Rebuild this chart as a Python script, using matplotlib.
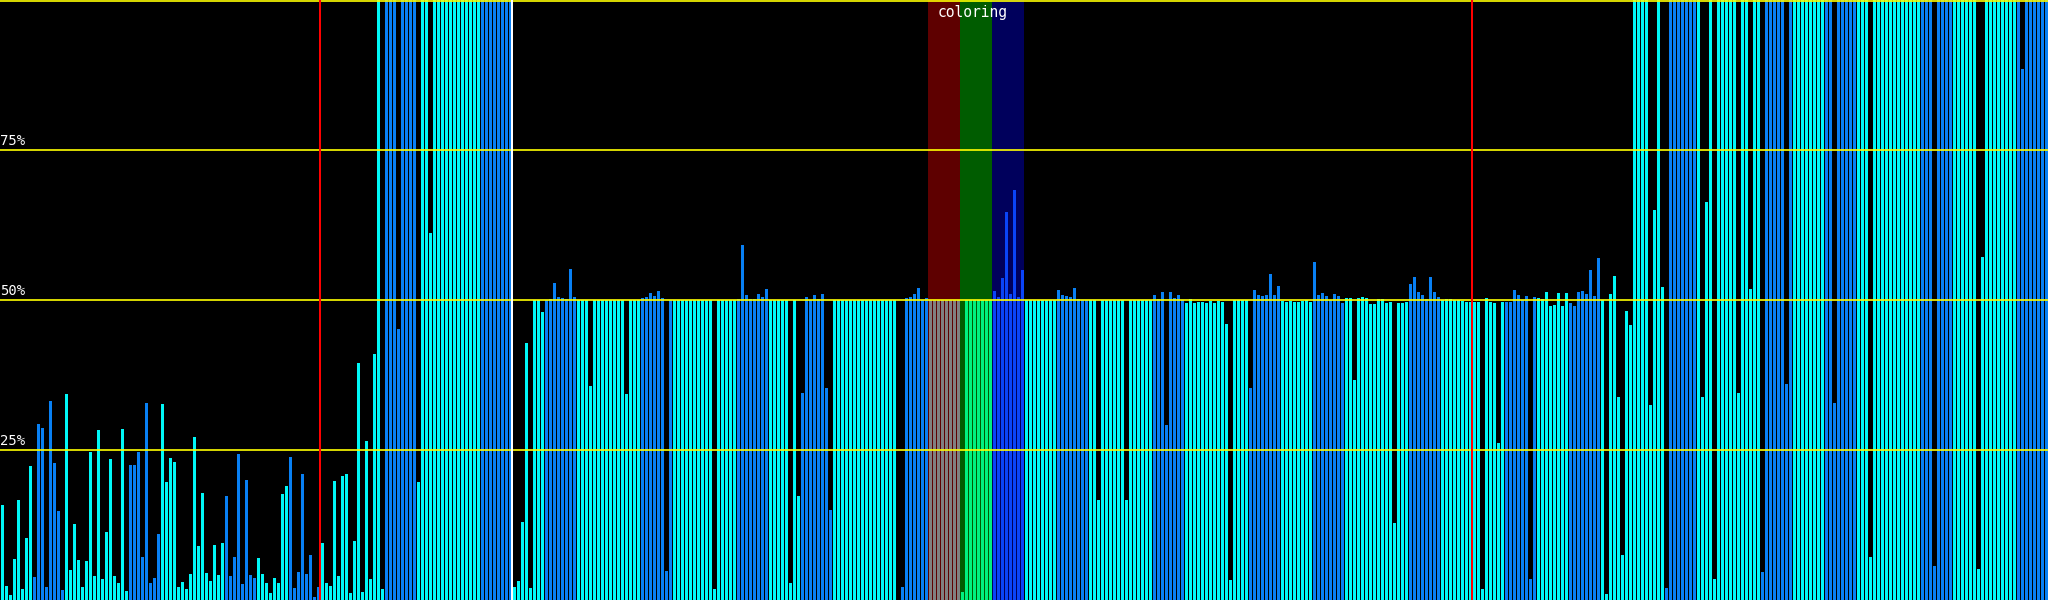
import matplotlib
matplotlib.use("Agg")
import matplotlib.pyplot as plt

# bar heights in percent, 8 bars per row (one colour group per row)
values_a = [
    15.8, 2.4, 0.8, 6.9, 16.6, 1.8, 10.3, 22.3,
    3.8, 29.3, 28.6, 2.2, 33.2, 22.8, 14.9, 1.7,
    34.3, 5.0, 12.7, 6.7, 2.2, 6.5, 24.7, 4.0,
    28.3, 3.5, 11.4, 23.5, 4.0, 2.8, 28.5, 1.5,
    22.5, 22.5, 24.7, 7.1, 32.8, 2.8, 3.6, 11.0,
    32.7, 19.6, 23.7, 23.0, 2.2, 3.0, 1.8, 4.3,
    27.2, 9.0, 17.9, 4.5, 3.2, 9.2, 4.1, 9.5,
    17.3, 4.0, 7.1, 24.4, 2.7, 20.0, 4.1, 3.6,
    7.0, 4.3, 2.8, 1.1, 3.6, 2.8, 17.7, 19.0,
    23.9, 2.0, 4.7, 21.0, 4.3, 7.5, 0.5, 2.2,
    9.5, 2.8, 2.4, 19.8, 4.0, 20.7, 21.0, 1.1,
    9.8, 39.5, 1.3, 26.5, 3.5, 41.0, 100, 1.8,
    100, 100, 100, 45.2, 100, 100, 100, 100,
    19.6, 100, 100, 61.2, 100, 100, 100, 100,
    100, 100, 100, 100, 100, 100, 100, 100,
    100, 100, 100, 100, 100, 100, 100, 100,
]
values_b = [
    2.2, 3.2, 13.0, 42.9, 2.0, 50, 50, 48.0,
    50, 50.2, 52.8, 50.5, 50.3, 50.2, 55.2, 50.5,
    50, 50, 50, 35.7, 50, 50, 50, 50,
    50, 50, 50, 50, 34.3, 50, 50, 50,
    50.3, 50.5, 51.1, 50.6, 51.5, 50.3, 4.8, 50,
    50, 50, 50, 50, 50, 50, 50, 50,
    50, 50, 1.8, 50, 50, 50, 50, 50,
    50.2, 59.2, 50.8, 50.2, 50.2, 51.0, 50.5, 51.8,
    50, 50, 50, 50, 50, 2.8, 50, 17.3,
    34.5, 50.5, 50, 50.8, 50.2, 51.0, 35.3, 15.0,
    50, 50, 50, 50, 50, 50, 50, 50,
    50, 50, 50, 50, 50, 50, 50, 50,
    0.0, 2.2, 50.3, 50.5, 51.0, 52.0, 50.0, 50.3,
    50, 50, 50, 50, 50, 50, 50, 50,
    1.3, 50, 50, 50, 50, 50, 50, 50,
    51.5, 50.5, 53.6, 64.7, 51.0, 68.3, 50.5, 55.0,
]
values_c = [
    50, 50, 50, 50, 50, 50, 50, 50,
    51.7, 50.8, 50.6, 50.5, 52.0, 50.2, 50, 50,
    50, 50, 16.6, 50, 50, 50, 50, 50,
    50, 16.6, 50, 50, 50, 50, 50, 50,
    50.8, 50.2, 51.3, 29.1, 51.3, 50.3, 50.8, 50,
    49.5, 50.2, 49.5, 49.7, 49.7, 49.5, 49.8, 49.5,
    49.8, 49.7, 46.0, 3.3, 50, 50, 50, 50,
    35.3, 51.7, 50.8, 50.6, 50.8, 54.3, 50.8, 52.4,
    49.8, 49.7, 49.8, 49.7, 49.7, 49.8, 50, 49.7,
    56.3, 50.8, 51.1, 50.6, 50, 51.0, 50.6, 49.5,
    50.3, 50.3, 36.7, 50.3, 50.5, 50.3, 49.4, 49.4,
    50.2, 50.2, 49.5, 49.7, 12.8, 49.5, 49.5, 49.7,
    52.7, 53.8, 51.3, 50.8, 50.2, 53.8, 51.3, 50.5,
    50, 50.2, 50.2, 50, 50, 49.8, 49.7, 49.7,
    49.7, 49.7, 1.8, 50.3, 49.7, 49.5, 26.1, 49.7,
    49.7, 49.7, 51.7, 50.8, 50, 50.6, 3.5, 50.5,
]
values_d = [
    50.3, 50.2, 51.3, 49.0, 49.2, 51.1, 49.0, 51.1,
    49.5, 49.0, 51.3, 51.5, 51.0, 55.0, 50.6, 57.0,
    50, 1.0, 51.0, 54.0, 33.9, 7.5, 48.2, 45.9,
    100, 100, 100, 100, 32.5, 65.0, 100, 52.2,
    2.0, 100, 100, 100, 100, 100, 100, 100,
    100, 33.9, 66.3, 100, 3.5, 100, 100, 100,
    100, 100, 34.5, 100, 100, 51.8, 100, 100,
    4.7, 100, 100, 100, 100, 100, 36.0, 100,
    100, 100, 100, 100, 100, 100, 100, 100,
    100, 100, 32.8, 100, 100, 100, 100, 100,
    100, 100, 100, 7.1, 100, 100, 100, 100,
    100, 100, 100, 100, 100, 100, 100, 100,
    100, 100, 100, 5.7, 100, 100, 100, 100,
    100, 100, 100, 100, 100, 100, 5.2, 57.1,
    100, 100, 100, 100, 100, 100, 100, 100,
    100, 88.5, 100, 100, 100, 100, 100, 100,
]
values = values_a + values_b + values_c + values_d

# one letter per group of 8 bars
group_colors = "CBCCBCCB" "CBCCBCCB" "CBCCBCCB" "CBCCBRGN" \
               "CBCCBCCB" "CBCCBCCB" "CBCCBCCB" "CBCCBCCB"
bar_palette = {"C": "#00f8f8", "B": "#0880f4", "R": "#808080",
               "G": "#00f080", "N": "#0a44f8"}
span_palette = {"R": "#5e0000", "G": "#005c00", "N": "#00005c"}

grid_levels = [25, 50, 75]
grid_labels = ["25%", "50%", "75%"]
red_marks = [80, 368]
white_marks = [128]
title_text = "coloring"

fig = plt.figure(figsize=(20.48, 6), dpi=100, facecolor="black")
ax = fig.add_axes([0, 0, 1, 1])
ax.set_facecolor("black")
n = len(values)
ax.set_xlim(0, n)
ax.set_ylim(0, 100)
ax.axis("off")

# coloured background behind the highlighted groups
for g, c in enumerate(group_colors):
    if c in span_palette:
        ax.axvspan(g * 8, g * 8 + 8, color=span_palette[c], lw=0, zorder=0)

cols = [bar_palette[group_colors[i // 8]] for i in range(n)]
ax.bar([i + 0.25 for i in range(n)], values, width=0.75, align="edge",
       color=cols, linewidth=0, zorder=2)

for lv, lab in zip(grid_levels, grid_labels):
    ax.axhline(lv, color="#ffff00", lw=1.2, zorder=3)
    ax.text(0.05, lv + 0.3, lab, color="white", fontsize=10,
            family="DejaVu Sans Mono", va="bottom", ha="left", zorder=5)
ax.axhline(99.85, color="#ffff00", lw=1.2, zorder=3)

for x in red_marks:
    ax.axvline(x - 0.1, color="#ff0000", lw=1.44, zorder=4)
for x in white_marks:
    ax.axvline(x - 0.1, color="white", lw=1.44, zorder=4)

ax.text(243.2, 99.2, title_text, color="white", fontsize=10.5,
        family="DejaVu Sans Mono", ha="center", va="top", zorder=5)

fig.savefig("out.png", dpi=100, facecolor="black")
